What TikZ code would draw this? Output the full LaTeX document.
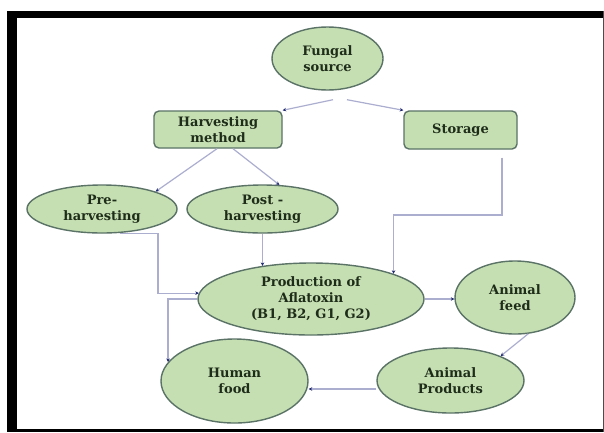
\documentclass[tikz,border=0pt]{standalone}
\usepackage{fontspec}
\setmainfont{DejaVu Serif}
\usetikzlibrary{arrows.meta,shapes.geometric}
\definecolor{fillgreen}{RGB}{198,223,178}
\definecolor{bordergreen}{RGB}{90,115,102}
\definecolor{txtcol}{RGB}{30,45,25}
\definecolor{conncol}{RGB}{172,174,208}
\definecolor{tipcol}{RGB}{30,40,110}
\tikzset{
  ell/.style={ellipse, draw=bordergreen, fill=fillgreen, line width=1.4pt, inner sep=0pt,
    align=center, text=txtcol, font=\fontsize{13}{16}\selectfont\bfseries},
  roundbox/.style={rectangle, rounded corners=5pt, draw=bordergreen, fill=fillgreen, line width=1.4pt,
    inner sep=0pt, align=center, text=txtcol, font=\fontsize{13}{16}\selectfont\bfseries},
  conn/.style={draw=conncol, line width=1.2pt, -{Stealth[length=3.5pt,width=3.5pt,color=tipcol]}}
}
\begin{document}
\begin{tikzpicture}[x=1pt,y=-1pt]
\useasboundingbox (0,0) rectangle (604,432);
\fill[white] (0,0) rectangle (604,432);
% frame
\fill[black] (7,11) rectangle (17,432);
\fill[black] (7,11) rectangle (604,18);
\fill[black] (7,428.5) rectangle (604,432);
\fill[black!70] (602.5,11) rectangle (604,432);

% nodes
\node[ell, minimum width=111pt, minimum height=63pt] (fs) at (327.5,58.5) {Fungal\\source};
\node[roundbox, minimum width=128pt, minimum height=37pt] (hm) at (218,129.5) {Harvesting\\method};
\node[roundbox, minimum width=113pt, minimum height=38pt] (st) at (460.5,130) {Storage};
\node[ell, minimum width=150pt, minimum height=48pt] (pre) at (102,209) {Pre-\\harvesting};
\node[ell, minimum width=151pt, minimum height=48pt] (post) at (262.5,209) {Post -\\harvesting};
\node[ell, minimum width=226pt, minimum height=72pt] (prod) at (311,299) {Production of\\Aflatoxin\\(B1, B2, G1, G2)};
\node[ell, minimum width=120pt, minimum height=73pt] (af) at (515,297.5) {Animal\\feed};
\node[ell, minimum width=147pt, minimum height=65pt] (ap) at (450.5,380.5) {Animal\\Products};
\node[ell, minimum width=147pt, minimum height=84pt] (hf) at (234.5,381) {Human\\food};

% free ends below the fungal source
\coordinate (fs1) at ([shift={(5.5pt,-9pt)}]fs.south);
\coordinate (fs2) at ([shift={(19.5pt,-9pt)}]fs.south);
\coordinate (stout) at ([shift={(41.5pt,-8pt)}]st.south);

% connectors
\draw[conn] (fs1) -- (hm.north east);
\draw[conn] (fs2) -- (st.north west);
\draw[conn] ([xshift=-1pt]hm.south) -- (pre.18);
\draw[conn] ([xshift=15pt]hm.south) -- (post.55);
\draw[conn] (post.south) -- (post.south |- prod.146);
\draw[conn] (stout) -- (stout |- 0,215) -| (prod.17);
\draw[conn] ([xshift=18pt]pre.south) -- ++(38,0) |- (prod.177);
\draw[conn] (prod.west) -| (hf.164);
\draw[conn] (prod.east) -- (prod.east -| af.west);
\draw[conn] (af.-70) -- (ap.26);
\draw[conn] ([yshift=-8.5pt]ap.west) -- ([yshift=-8.5pt]ap.west -| hf.east);
\end{tikzpicture}
\end{document}
